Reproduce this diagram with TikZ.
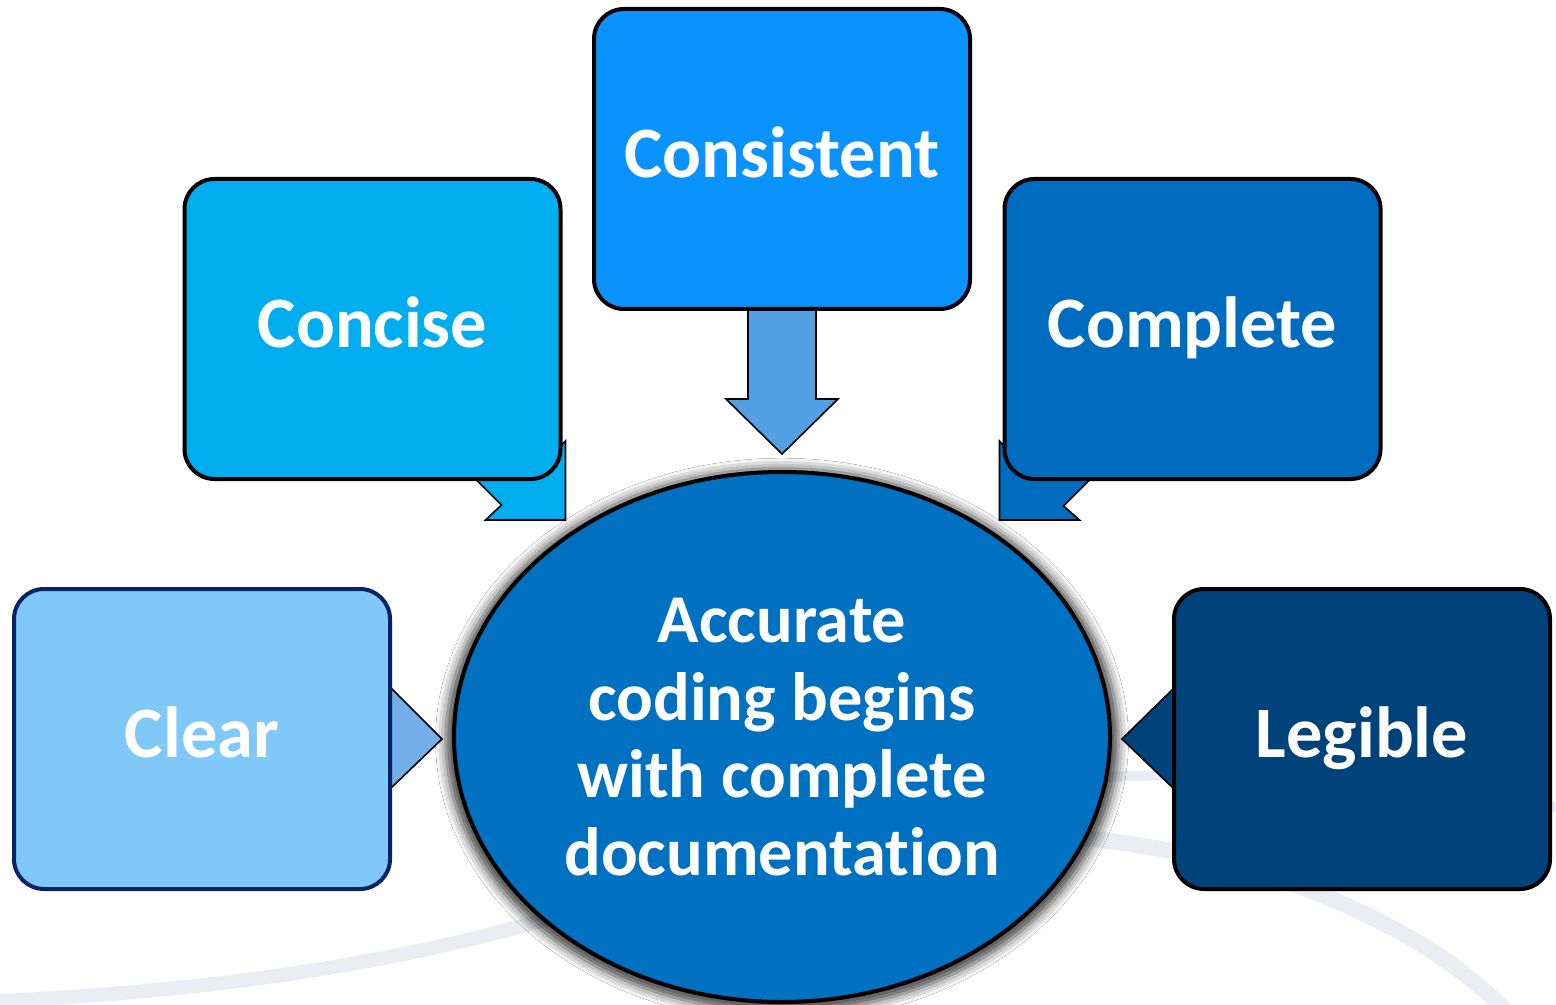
\documentclass[tikz,border=0pt]{standalone}
\usepackage{fontspec}
\setmainfont{Carlito}[Ligatures={NoCommon,NoRare}]
\usetikzlibrary{shapes.geometric,calc,shadows.blur}
\definecolor{cConcise}{RGB}{0,174,239}
\definecolor{cConsistent}{RGB}{10,147,255}
\definecolor{cComplete}{RGB}{0,108,192}
\definecolor{cClear}{RGB}{127,200,248}
\definecolor{cLegible}{RGB}{0,66,122}
\definecolor{cCenter}{RGB}{0,112,192}
\definecolor{cArrowTop}{RGB}{83,160,229}
\definecolor{cArrowClear}{RGB}{115,174,232}
\definecolor{cClearLine}{RGB}{10,35,100}
\definecolor{swoosh}{RGB}{236,237,244}
\begin{document}
\begin{tikzpicture}[x=0.5pt,y=-0.5pt,
  box/.style={rectangle, rounded corners=15pt, minimum width=188pt, minimum height=150pt,
    inner sep=0pt, draw=black, line width=2pt, text=white, text depth=7pt,
    font=\bfseries\fontsize{36.2}{43}\selectfont},
  pointer/.style={draw=black, line width=0.8pt, line join=miter},
  swooshline/.style={draw=swoosh, line cap=round},
]
\useasboundingbox (0,0) rectangle (1556,1005);
\fill[white] (0,0) rectangle (1556,1005);
% background swooshes
\draw[swooshline, line width=7pt] (-20,1002) .. controls (250,990) and (450,955) .. (640,890);
\draw[swooshline, line width=5pt] (1080,778) .. controls (1300,768) and (1450,785) .. (1570,810);
\draw[swooshline, line width=8pt] (1080,838) .. controls (1270,855) and (1430,930) .. (1510,1015);
% centre
\node[ellipse, minimum width=328pt, minimum height=265pt, inner sep=0pt,
  fill=cCenter, draw=black, line width=2pt, text=white, align=center,
  font=\bfseries\fontsize{34.2}{38.7}\selectfont,
  blur shadow={shadow xshift=0pt, shadow yshift=-1.5pt, shadow scale=1.025,
    shadow blur radius=5pt, shadow opacity=75}]
  (ctr) at (782,737) {Accurate\\coding begins\\with complete\\documentation};
% box coordinates
\coordinate (concP) at (372.5,329);
\coordinate (consP) at (782,159);
\coordinate (compP) at (1192.5,329);
\coordinate (clearP) at (202,739);
\coordinate (legP) at (1362,739);
% arrows (drawn under the boxes)
\path (consP) ++(0,150) coordinate (consS);
\filldraw[pointer, fill=cArrowTop]
  ($(consS)+(-34,-5)$) -- ($(consS)+(-34,90)$) -- ($(consS)+(-56,90)$) -- ($(consS)+(0,145)$)
  -- ($(consS)+(56,90)$) -- ($(consS)+(34,90)$) -- ($(consS)+(34,-5)$) -- cycle;
\path (concP) ++(188,150) coordinate (concSE);
\filldraw[pointer, fill=cConcise]
  ($(concSE)+(5,41)$) -- ($(concSE)+(-75,41)$) -- ($(concSE)+(-59,26)$) -- ($(concSE)+(-139,-54)$)
  -- ($(concSE)+(-90,-103)$) -- ($(concSE)+(-10,-23)$) -- ($(concSE)+(5,-38)$) -- cycle;
\path (compP) ++(-188,150) coordinate (compSW);
\filldraw[pointer, fill=cComplete]
  ($(compSW)+(-5,41)$) -- ($(compSW)+(75,41)$) -- ($(compSW)+(59,27)$) -- ($(compSW)+(139,-53)$)
  -- ($(compSW)+(89,-103)$) -- ($(compSW)+(9,-23)$) -- ($(compSW)+(-5,-38)$) -- cycle;
\path (clearP) ++(188,0) coordinate (clearE);
\filldraw[pointer, fill=cArrowClear]
  ($(clearE)+(-10,-51)$) -- ($(clearE)+(1,-51)$) -- ($(clearE)+(52,0)$) -- ($(clearE)+(1,49)$)
  -- ($(clearE)+(-10,49)$) -- cycle;
\path (legP) ++(-188,0) coordinate (legW);
\filldraw[pointer, fill=cLegible]
  ($(legW)+(10,-50)$) -- ($(legW)+(-1,-50)$) -- ($(legW)+(-52,0)$) -- ($(legW)+(-1,49)$)
  -- ($(legW)+(10,49)$) -- cycle;
% boxes
\node[box, fill=cConcise] (conc) at (concP) {Concise};
\node[box, fill=cConsistent] (cons) at (consP) {Consistent};
\node[box, fill=cComplete] (comp) at (compP) {Complete};
\node[box, fill=cClear, draw=cClearLine] (clear) at (clearP) {Clear};
\node[box, fill=cLegible] (leg) at (legP) {Legible};
\end{tikzpicture}
\end{document}
